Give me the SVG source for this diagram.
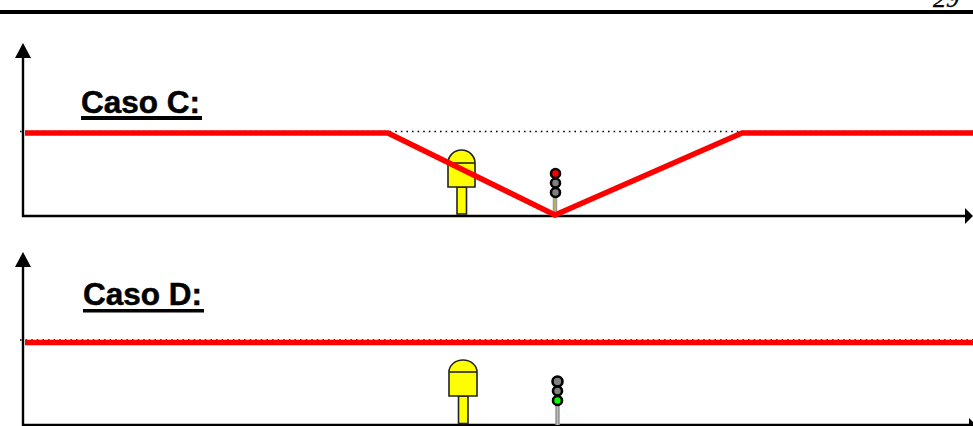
<svg xmlns="http://www.w3.org/2000/svg" width="973" height="426" viewBox="0 0 973 426">
<style>
.axis{stroke:#000;stroke-width:2.400;fill:none}
.head{fill:#000}
.dots{stroke:#000;stroke-width:1.600;stroke-dasharray:1.600 4;fill:none}
.red{stroke:#f00;stroke-width:5.500;fill:none;stroke-linejoin:miter}
.title{font-family:"Liberation Sans",Arial,sans-serif;font-weight:700;font-size:31.500px;fill:#000;stroke:#000;stroke-width:.5}
.y{fill:#ff0;stroke:#222;stroke-width:1.600}
.lamp{stroke:#000;stroke-width:2.600}
.pole{stroke:#999;stroke-width:4.500}
.polec{stroke:#cc3;stroke-width:1}
</style>
<rect width="973" height="426" fill="#fff"/>
<rect id="rule" x="0" y="10" width="973" height="4" fill="#000"/>
<text id="page" x="933" y="7" font-family="Liberation Serif,serif" font-style="italic" font-size="26" fill="#000" stroke="#000" stroke-width=".4">29</text>
<g id="connectors">
<path class="axis" d="M23 56V216H966"/>
<path class="head" d="M23 43L31 58H15Z"/>
<path class="head" d="M973 216L965 208V224Z"/>
<path class="dots" d="M20 131.500H973"/>
<path class="axis" d="M23 265V425H970"/>
<path class="head" d="M23 252L31 267H15Z"/>
<path class="head" d="M969 418L973 422V426H969Z"/>
<path class="dots" d="M20 340H973"/>
<path class="red" d="M25 342.500H973"/>
</g>
<g id="label-c"><text class="title" x="81" y="113">Caso C:</text><rect x="81" y="116" width="121" height="4"/></g>
<g id="label-d"><text class="title" x="83" y="305">Caso D:</text><rect x="83" y="309" width="121" height="3.500"/></g>
<g id="sign-c">
<rect class="y" x="457" y="187" width="9.500" height="27"/>
<path class="y" d="M448 187V163A13.500 13 0 0 1 475 163V187Z"/>
<path class="y" d="M448 163H475" fill="none"/>
</g>
<g id="sign-d">
<rect class="y" x="458.500" y="396" width="9.500" height="27.500"/>
<path class="y" d="M449 396V372A14 12 0 0 1 477 372V396Z"/>
<path class="y" d="M449 372H477" fill="none"/>
</g>
<g id="signal-c">
<path class="pole" d="M555 197V216"/><path class="polec" d="M555 197V216"/>
<circle class="lamp" cx="555.500" cy="173.500" r="4.500" fill="#f00"/>
<circle class="lamp" cx="555.500" cy="183" r="4.500" fill="#808080"/>
<circle class="lamp" cx="555.500" cy="192.500" r="4.500" fill="#808080"/>
</g>
<g id="signal-d">
<path class="pole" d="M557.500 404V425"/><path class="polec" d="M557.500 404V425"/>
<circle class="lamp" cx="557.500" cy="381.500" r="5" fill="#808080"/>
<circle class="lamp" cx="557.500" cy="391" r="4.500" fill="#808080"/>
<circle class="lamp" cx="557.500" cy="400.500" r="4.500" fill="#0f0"/>
</g>
<path id="profile-c" class="red" d="M25 133H388L555 215L742 133H973"/>
</svg>
